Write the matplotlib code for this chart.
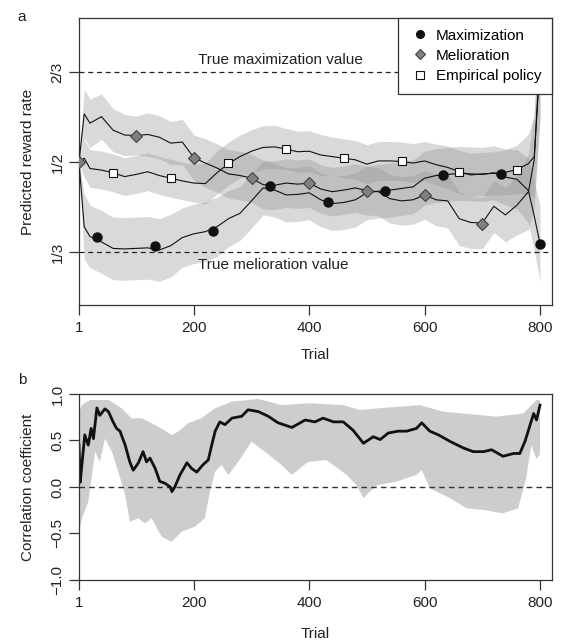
import numpy as np
import matplotlib.pyplot as plt

plt.rcParams['font.family'] = ['Liberation Sans', 'DejaVu Sans']
plt.rcParams['font.size'] = 11

# ---- panel a: predicted reward rate ----
trial = [1, 10, 20, 40, 60, 80, 100, 120, 140, 160, 180, 200, 220, 240, 260, 280,
         300, 320, 340, 360, 380, 400, 420, 440, 460, 480, 500, 520, 540, 560, 580,
         600, 620, 640, 660, 680, 700, 720, 740, 760, 780, 790, 800]

maxi = [0.500, 0.380, 0.362, 0.352, 0.340, 0.339, 0.340, 0.341, 0.337, 0.345, 0.360,
        0.367, 0.371, 0.380, 0.395, 0.405, 0.428, 0.452, 0.448, 0.439, 0.440, 0.443,
        0.430, 0.423, 0.425, 0.430, 0.443, 0.446, 0.448, 0.451, 0.454, 0.470, 0.475,
        0.477, 0.479, 0.478, 0.477, 0.480, 0.472, 0.468, 0.447, 0.400, 0.349]
meli = [0.500, 0.589, 0.572, 0.584, 0.559, 0.550, 0.549, 0.551, 0.546, 0.535, 0.537,
        0.508, 0.498, 0.489, 0.478, 0.475, 0.470, 0.458, 0.457, 0.461, 0.459, 0.461,
        0.450, 0.445, 0.448, 0.452, 0.447, 0.445, 0.432, 0.428, 0.430, 0.439, 0.430,
        0.428, 0.395, 0.388, 0.387, 0.418, 0.402, 0.420, 0.445, 0.504, 0.700]
emp = [0.500, 0.507, 0.488, 0.485, 0.480, 0.473, 0.477, 0.482, 0.475, 0.470, 0.465,
       0.461, 0.460, 0.480, 0.497, 0.510, 0.520, 0.527, 0.528, 0.524, 0.519, 0.520,
       0.513, 0.510, 0.507, 0.504, 0.496, 0.502, 0.502, 0.501, 0.498, 0.502, 0.495,
       0.490, 0.482, 0.476, 0.478, 0.479, 0.481, 0.486, 0.497, 0.510, 0.680]

# half widths of the shaded bands
max_hw = [0.000, 0.060, 0.058, 0.058, 0.058, 0.058, 0.058, 0.058, 0.058, 0.058, 0.055,
          0.055, 0.055, 0.055, 0.052, 0.050, 0.050, 0.050, 0.050, 0.050, 0.050, 0.050,
          0.050, 0.050, 0.050, 0.050, 0.050, 0.050, 0.050, 0.050, 0.050, 0.050, 0.050,
          0.050, 0.050, 0.050, 0.050, 0.050, 0.052, 0.055, 0.060, 0.065, 0.070]
mel_hw = [0.000, 0.045, 0.045, 0.042, 0.040, 0.038, 0.036, 0.040, 0.040, 0.040, 0.042,
          0.042, 0.045, 0.045, 0.045, 0.045, 0.045, 0.045, 0.045, 0.045, 0.045, 0.045,
          0.045, 0.045, 0.045, 0.045, 0.045, 0.045, 0.045, 0.045, 0.045, 0.045, 0.048,
          0.050, 0.050, 0.048, 0.048, 0.048, 0.050, 0.055, 0.070, 0.090, 0.120]
emp_hw = [0.000, 0.035, 0.035, 0.035, 0.035, 0.035, 0.035, 0.035, 0.035, 0.035, 0.035,
          0.035, 0.038, 0.040, 0.040, 0.040, 0.040, 0.040, 0.040, 0.038, 0.038, 0.038,
          0.038, 0.036, 0.036, 0.036, 0.036, 0.036, 0.036, 0.036, 0.036, 0.036, 0.038,
          0.040, 0.040, 0.040, 0.040, 0.040, 0.042, 0.045, 0.055, 0.075, 0.100]

# marker positions
max_mk_t = [33, 133, 233, 332, 432, 532, 632, 732, 800]
max_mk_v = [0.362, 0.345, 0.372, 0.456, 0.425, 0.447, 0.476, 0.478, 0.349]
mel_mk_t = [1, 100, 200, 300, 400, 500, 600, 700]
mel_mk_v = [0.500, 0.549, 0.508, 0.470, 0.461, 0.447, 0.438, 0.386]
emp_mk_t = [60, 160, 260, 360, 460, 560, 660, 760]
emp_mk_v = [0.480, 0.470, 0.498, 0.524, 0.507, 0.501, 0.482, 0.486]

# ---- panel b: correlation coefficient ----
corr_t = [1, 3, 6, 11, 17, 22, 26, 32, 37, 46, 52, 60, 66, 72, 81, 89, 95, 104, 112,
          118, 124, 133, 141, 150, 159, 162, 167, 176, 188, 196, 205, 216, 225, 231,
          237, 245, 254, 266, 283, 294, 312, 329, 346, 370, 393, 410, 424, 442, 459,
          476, 494, 511, 523, 537, 554, 569, 586, 595, 609, 624, 644, 667, 684, 702,
          716, 736, 754, 765, 774, 783, 789, 794, 800]
corr_v = [0.45, 0.05, 0.24, 0.56, 0.45, 0.63, 0.52, 0.85, 0.77, 0.84, 0.81, 0.70, 0.63,
          0.60, 0.45, 0.27, 0.18, 0.26, 0.38, 0.27, 0.31, 0.20, 0.06, 0.04, 0.00, -0.05,
          0.00, 0.13, 0.26, 0.20, 0.16, 0.24, 0.29, 0.45, 0.60, 0.70, 0.67, 0.74, 0.76,
          0.83, 0.81, 0.76, 0.69, 0.64, 0.72, 0.70, 0.74, 0.70, 0.70, 0.61, 0.47, 0.54,
          0.51, 0.58, 0.60, 0.60, 0.63, 0.69, 0.60, 0.56, 0.49, 0.42, 0.38, 0.38, 0.40,
          0.33, 0.36, 0.36, 0.49, 0.67, 0.79, 0.72, 0.88]
up_t = [1, 6, 20, 52, 75, 92, 110, 133, 162, 173, 190, 213, 237, 266, 312, 352, 400,
        459, 488, 520, 592, 632, 724, 771, 794, 800]
up_v = [0.80, 0.88, 0.935, 0.935, 0.846, 0.738, 0.738, 0.667, 0.56, 0.595, 0.685, 0.738,
        0.846, 0.917, 0.946, 0.88, 0.90, 0.88, 0.828, 0.846, 0.88, 0.81, 0.756, 0.79,
        0.935, 0.935]
lo_t = [1, 6, 17, 29, 37, 46, 58, 69, 81, 89, 104, 115, 127, 144, 162, 179, 202, 219,
        228, 237, 248, 260, 277, 300, 323, 352, 370, 398, 430, 465, 482, 494, 517, 551,
        586, 595, 609, 644, 673, 702, 736, 762, 776, 785, 794, 800]
lo_v = [-0.50, -0.34, -0.16, 0.38, 0.27, 0.52, 0.38, 0.165, -0.086, -0.373, -0.337,
        -0.39, -0.337, -0.534, -0.59, -0.48, -0.427, -0.337, -0.05, 0.165, 0.237, 0.13,
        0.27, 0.487, 0.38, 0.237, 0.13, 0.27, 0.29, 0.13, 0.02, -0.12, 0.02, 0.057, 0.13,
        0.183, -0.014, -0.12, -0.23, -0.247, -0.283, -0.23, 0.094, 0.45, 0.30, 0.35]

xticks = [1, 200, 400, 600, 800]

fig = plt.figure(figsize=(5.62, 6.43), dpi=100)
ax1 = fig.add_axes([0.1406, 0.5257, 0.8416, 0.4463])
ax2 = fig.add_axes([0.1406, 0.0980, 0.8416, 0.2893])

ink = '#222222'

# bands
for v, hw in ((maxi, max_hw), (meli, mel_hw), (emp, emp_hw)):
    v = np.array(v)
    hw = np.array(hw)
    ax1.fill_between(trial, v - hw, v + hw, color=(0.58, 0.58, 0.58), alpha=0.35, lw=0)

ax1.axhline(2/3, color=ink, lw=0.9, ls=(0, (4, 3)), zorder=2)
ax1.axhline(1/3, color=ink, lw=0.9, ls=(0, (4, 3)), zorder=2)

ax1.plot(trial, maxi, color='#111111', lw=0.8, zorder=3)
ax1.plot(trial, meli, color='#111111', lw=0.8, zorder=3)
ax1.plot(trial, emp, color='#111111', lw=0.8, zorder=3)

ax1.plot(max_mk_t, max_mk_v, 'o', ms=6.5, mfc='#111111', mec='#111111', zorder=4,
         label='Maximization')
ax1.plot(mel_mk_t, mel_mk_v, 'D', ms=6, mfc='#808080', mec='#404040', mew=0.8, zorder=4,
         label='Melioration')
ax1.plot(emp_mk_t, emp_mk_v, 's', ms=6, mfc='white', mec='#111111', mew=0.8, zorder=4,
         label='Empirical policy')

ax1.text(207, 0.689, 'True maximization value', ha='left', va='center', color=ink)
ax1.text(207, 0.309, 'True melioration value', ha='left', va='center', color=ink)

ax1.set_xlim(1, 820.8)
ax1.set_ylim(0.2352, 0.7667)
ax1.set_yticks([1/3, 1/2, 2/3])
ax1.set_yticklabels(['1/3', '1/2', '2/3'])
ax1.set_ylabel('Predicted reward rate', color=ink)
ax1.set_xlabel('Trial', color=ink)
ax1.yaxis.set_label_coords(-0.094, 0.5)
ax1.xaxis.set_label_coords(0.5, -0.15)

leg = ax1.legend(loc='upper right', borderaxespad=0, fancybox=False, framealpha=1,
                 edgecolor='#333333', handletextpad=0.3, labelspacing=0.4,
                 borderpad=0.7, handlelength=1.5, markerscale=0.85)
leg.get_frame().set_linewidth(0.9)

# panel b
ax2.fill(up_t + lo_t[::-1], up_v + lo_v[::-1], color='#cdcdcd', lw=0)
ax2.axhline(0, color='#333333', lw=1.0, ls=(0, (4, 3)))
ax2.plot(corr_t, corr_v, color='#111111', lw=2.0)
ax2.set_xlim(1, 820.8)
ax2.set_ylim(-1, 1)
ax2.set_yticks([-1, -0.5, 0, 0.5, 1])
ax2.set_yticklabels(['\u22121.0', '\u22120.5', '0.0', '0.5', '1.0'])
ax2.set_ylabel('Correlation coefficient', color=ink)
ax2.set_xlabel('Trial', color=ink)
ax2.yaxis.set_label_coords(-0.094, 0.5)
ax2.xaxis.set_label_coords(0.5, -0.253)

for ax in (ax1, ax2):
    ax.set_xticks(xticks)
    ax.set_xticklabels([str(t) for t in xticks])
    ax.tick_params(direction='out', length=7.5, width=0.9, color='#333333',
                   labelcolor=ink, pad=4)
    ax.tick_params(axis='y', labelrotation=90, pad=3)
    for lbl in ax.get_yticklabels():
        lbl.set_va('center')
    for s in ax.spines.values():
        s.set_color('#333333')
        s.set_linewidth(0.9)

fig.text(22/562, 1 - 17/643, 'a', ha='center', va='center', color=ink)
fig.text(22/562, 1 - 380/643, 'b', ha='center', va='center', color=ink)

fig.savefig('out.png', dpi=100)
